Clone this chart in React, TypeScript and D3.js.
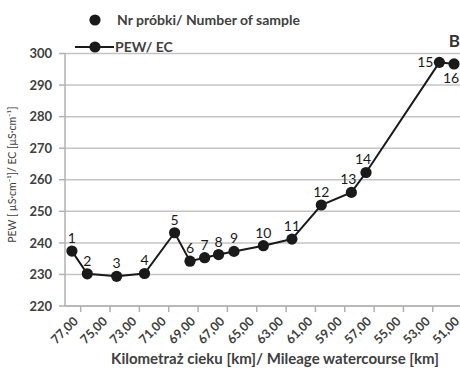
import React from "react";
import * as d3 from "d3";

// Sample points along the watercourse
const sampleNo = ["1", "2", "3", "4", "5", "6", "7", "8", "9", "10", "11", "12", "13", "14", "15", "16"];
const mileageKm = [77.6, 76.55, 74.55, 72.65, 70.6, 69.55, 68.55, 67.6, 66.55, 64.55, 62.6, 60.6, 58.55, 57.55, 52.55, 51.55];
const ecValues = [237.4, 230.2, 229.4, 230.3, 243.2, 234.2, 235.3, 236.3, 237.3, 239.1, 241.2, 252.0, 256.0, 262.3, 297.2, 296.7];
// Where each sample number sits relative to its marker
const labelPlacement = ["above", "above", "above", "above", "above", "above", "above", "above", "above", "above", "above", "above", "aboveLeft", "aboveLeft", "left", "below"];

const xTicks = [77, 75, 73, 71, 69, 67, 65, 63, 61, 59, 57, 55, 53, 51];
const yTicks = [220, 230, 240, 250, 260, 270, 280, 290, 300];

const W = 460;
const H = 371;
const FONT = "Lato, 'Open Sans', sans-serif";

export default function App() {
  const x = d3.scaleLinear().domain([78.07, 50.5]).range([65, 65 + 27.57 * 14.67]);
  const y = d3.scaleLinear().domain([220, 300]).range([306, 53.5]);

  const pts = mileageKm.map((km, i) => ({ km, v: ecValues[i], n: sampleNo[i], p: labelPlacement[i] }));
  const line = d3
    .line<{ km: number; v: number }>()
    .x((d) => x(d.km))
    .y((d) => y(d.v));

  const fmt = (v: number) => v.toFixed(2).replace(".", ",");
  const plotRight = W + 5;

  return (
    <svg width={W} height={H} style={{ position: "absolute", left: 0, top: 0, background: "#fff" }}>
      {/* horizontal gridlines */}
      {yTicks.map((t) => (
        <line key={"g" + t} x1={65} x2={plotRight} y1={y(t)} y2={y(t)} stroke="#c4c4c4" strokeWidth={1.5} />
      ))}
      {/* y axis */}
      <line x1={65} x2={65} y1={y(300)} y2={y(220)} stroke="#b0b0b0" strokeWidth={1.5} />
      {yTicks.map((t) => (
        <g key={"yt" + t}>
          <line x1={59} x2={65} y1={y(t)} y2={y(t)} stroke="#b0b0b0" strokeWidth={1.5} />
          <text x={52} y={y(t)} dy="0.36em" textAnchor="end" fontFamily={FONT} fontWeight={700} fontSize={13} fill="#404040">
            {t}
          </text>
        </g>
      ))}
      {/* x axis */}
      <line x1={65} x2={plotRight} y1={y(220)} y2={y(220)} stroke="#b0b0b0" strokeWidth={1.5} />
      {xTicks.map((t) => (
        <g key={"xt" + t}>
          <line x1={x(t)} x2={x(t)} y1={y(220)} y2={y(220) + 6} stroke="#b0b0b0" strokeWidth={1.5} />
          <text
            transform={`translate(${x(t) - 5},${y(220) + 13}) rotate(-45)`}
            textAnchor="end"
            dy="0.35em"
            fontFamily={FONT}
            fontWeight={700}
            fontSize={12.5}
            fill="#404040"
          >
            {fmt(t)}
          </text>
        </g>
      ))}

      {/* data line and markers */}
      <path d={line(pts) || ""} fill="none" stroke="#1a1a1a" strokeWidth={2} />
      {pts.map((d) => (
        <circle key={"c" + d.n} cx={x(d.km)} cy={y(d.v)} r={5.6} fill="#1a1a1a" />
      ))}
      {pts.map((d) => {
        const cx = x(d.km);
        const cy = y(d.v);
        let tx = cx;
        let ty = cy - 8;
        let anchor: "middle" | "end" = "middle";
        if (d.p === "aboveLeft") {
          tx = cx - 3;
          ty = cy - 8;
        } else if (d.p === "left") {
          tx = cx - 6;
          ty = cy + 5;
          anchor = "end";
        } else if (d.p === "below") {
          tx = cx - 3;
          ty = cy + 19;
        }
        return (
          <text key={"l" + d.n} x={tx} y={ty} textAnchor={anchor} fontFamily={FONT} fontSize={14} fill="#1a1a1a">
            {d.n}
          </text>
        );
      })}

      {/* legend */}
      <circle cx={95} cy={20} r={5.6} fill="#1a1a1a" />
      <text x={117} y={20} dy="0.36em" fontFamily={FONT} fontWeight={700} fontSize={14} fill="#404040">
        Nr próbki/ Number of sample
      </text>
      <line x1={75} x2={114} y1={47} y2={47} stroke="#1a1a1a" strokeWidth={2} />
      <circle cx={95} cy={47} r={5.6} fill="#1a1a1a" />
      <text x={115} y={47} dy="0.36em" fontFamily={FONT} fontWeight={700} fontSize={14} fill="#404040">
        PEW/ EC
      </text>

      {/* panel letter */}
      <text x={460} y={47} textAnchor="end" fontFamily={FONT} fontWeight={700} fontSize={17} fill="#333">
        B
      </text>

      {/* axis titles */}
      <text
        transform={`translate(16,${(y(300) + y(220)) / 2 - 5}) rotate(-90)`}
        textAnchor="middle"
        fontFamily={FONT}
        fontSize={10.5}
        fill="#404040"
      >
        PEW [ µS·cm⁻¹]/ EC [µS·cm⁻¹]
      </text>
      <text x={275} y={364} textAnchor="middle" fontFamily={FONT} fontWeight={700} fontSize={15} fill="#404040">
        Kilometraż cieku [km]/ Mileage watercourse [km]
      </text>
    </svg>
  );
}
